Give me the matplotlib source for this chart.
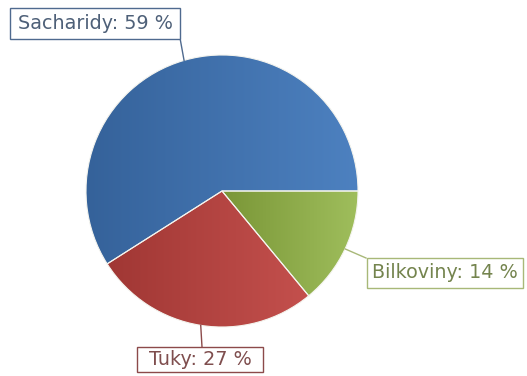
import numpy as np
import matplotlib.pyplot as plt
from matplotlib.colors import LinearSegmentedColormap
from matplotlib.patches import Rectangle

# Energy share of the macronutrients
labels = ['Sacharidy', 'Tuky', 'Bílkoviny']
shares = [59, 27, 14]
dark_colors = ['#35629a', '#a03734', '#7a9637']
light_colors = ['#4d81c0', '#c4504d', '#9fbe5c']
text_colors = ['#4e6078', '#7f4e4e', '#74844e']
edge_colors = ['#4f6a8f', '#8c4a4a', '#a8b878']
label_text = ['Sacharidy: 59 %', 'Tuky: 27 %', 'Bilkoviny: 14 %']

W, H = 527, 376
fig = plt.figure(figsize=(W / 100, H / 100), dpi=100)
ax = fig.add_axes([0, 0, 1, 1])

cx, cy, r = 222, 185, 136
wedges, _ = ax.pie(shares, center=(cx, cy), radius=r, startangle=0,
                   counterclock=True, frame=True,
                   wedgeprops=dict(edgecolor='#f4f4ee', linewidth=0.8))

# horizontal gradient inside every slice
grad = np.linspace(0, 1, 256).reshape(1, -1)
for w, c0, c1 in zip(wedges, dark_colors, light_colors):
    w.set_facecolor('none')
    bb = w.get_path().get_extents(w.get_patch_transform())
    cmap = LinearSegmentedColormap.from_list('g', [c0, c1])
    im = ax.imshow(grad, cmap=cmap, aspect='auto', interpolation='bilinear',
                   extent=[bb.x0, bb.x1, bb.y0, bb.y1], zorder=1)
    im.set_clip_path(w)
    w.set_zorder(2)

ax.set_xlim(0, W)
ax.set_ylim(0, H)
ax.set_aspect('equal')
ax.axis('off')

# label boxes (x0, y0, width, height) and the point the leader line ends at
boxes = [(10, 337, 170, 31), (137, 4, 126, 25), (367, 88, 156, 30)]
leader_ends = [(180, 338), (202, 29), (366, 118)]

for w, txt, tc, ec, (bx, by, bw, bh), (lx, ly) in zip(wedges, label_text, text_colors,
                                                      edge_colors, boxes, leader_ends):
    mid = np.deg2rad((w.theta1 + w.theta2) / 2)
    px, py = cx + r * np.cos(mid), cy + r * np.sin(mid)
    ax.plot([px, lx], [py, ly], color=ec, lw=1, zorder=3)
    ax.add_patch(Rectangle((bx, by), bw, bh, fc='white', ec=ec, lw=1, zorder=4))
    ax.text(bx + bw / 2, by + bh / 2, txt, ha='center', va='center',
            fontsize=13.8, color=tc, zorder=5)

fig.savefig('out.png', dpi=100)
